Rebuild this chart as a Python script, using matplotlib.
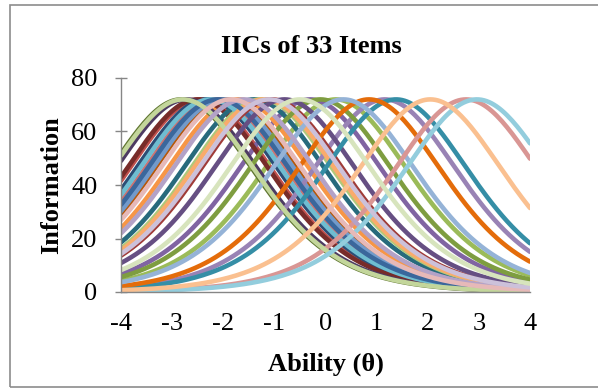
import numpy as np
import matplotlib
matplotlib.use("Agg")
import matplotlib.pyplot as plt
from matplotlib.patches import Rectangle

item_b = [-2.05, -2.45, 0.20, -0.30, -2.30, -1.70, -2.32, -2.50, -2.82, -2.72,
          -1.40, -1.95, -2.00, -2.15, -1.25, 1.16, -2.25, -1.20, -2.10, -1.05,
          -0.10, -0.80, 1.38, 0.85, 0.35, 2.75, -2.79, -1.60, 2.96, 2.05,
          -1.85, -1.10, -0.50]
item_colors = ["#4F81BD", "#C0504D", "#9BBB59", "#8064A2", "#4BACC6", "#F79646",
               "#2C4D75", "#772C2A", "#5F7530", "#4D3B62", "#276A7C", "#B65708",
               "#729ACA", "#CD7371", "#AFC97A", "#9983B5", "#6FBDD1", "#F9AB6B",
               "#3A679C", "#9F3B38", "#7E9D40", "#664F83", "#358EA6", "#E46C0A",
               "#95B3D7", "#D99694", "#C3D69B", "#B3A2C7", "#93CDDD", "#FAC090",
               "#E6B9B8", "#CCC1DA", "#D7E4BD"]
peak_info = 72.0   # max information of every item
slope = 1.0        # common discrimination

x_ticks = [-4, -3, -2, -1, 0, 1, 2, 3, 4]
y_ticks = [0, 20, 40, 60, 80]

plt.rcParams['font.family'] = ['Liberation Serif', 'DejaVu Serif']

fig = plt.figure(figsize=(5.98, 3.92), dpi=100)
fig.patches.append(Rectangle((10 / 598, 5 / 392), 1.0, 382 / 392, transform=fig.transFigure,
                             fill=False, edgecolor='#8c8c8c', linewidth=1.2))
ax = fig.add_axes([121 / 598, 1 - 292 / 392, 409 / 598, 214 / 392])

theta = np.linspace(-4, 4, 161)
for b, c in zip(item_b, item_colors):
    p = 1.0 / (1.0 + np.exp(-slope * (theta - b)))
    info = 4 * peak_info * p * (1 - p)
    ax.plot(theta, info, color=c, lw=3.3, solid_capstyle='round')

ax.set_xlim(-4, 4)
ax.set_ylim(0, 80)
ax.set_xticks(x_ticks)
ax.set_yticks(y_ticks)
ax.set_xticklabels([str(t) for t in x_ticks])
ax.set_yticklabels([str(t) for t in y_ticks])

for s in ['top', 'right']:
    ax.spines[s].set_visible(False)
for s in ['left', 'bottom']:
    ax.spines[s].set_color('#868686')
    ax.spines[s].set_linewidth(1.0)
ax.tick_params(axis='y', direction='inout', length=8, width=1.0, color='#868686',
               labelsize=19, pad=13)
ax.tick_params(axis='x', length=0, labelsize=19, pad=15)

ax.set_title('IICs of 33 Items', fontsize=19, fontweight='bold', pad=18, x=0.465)
ax.set_xlabel('Ability (θ)', fontsize=19, fontweight='bold', labelpad=13)
ax.set_ylabel('Information', fontsize=19, fontweight='bold', labelpad=6)

fig.savefig('out.png', dpi=100)
